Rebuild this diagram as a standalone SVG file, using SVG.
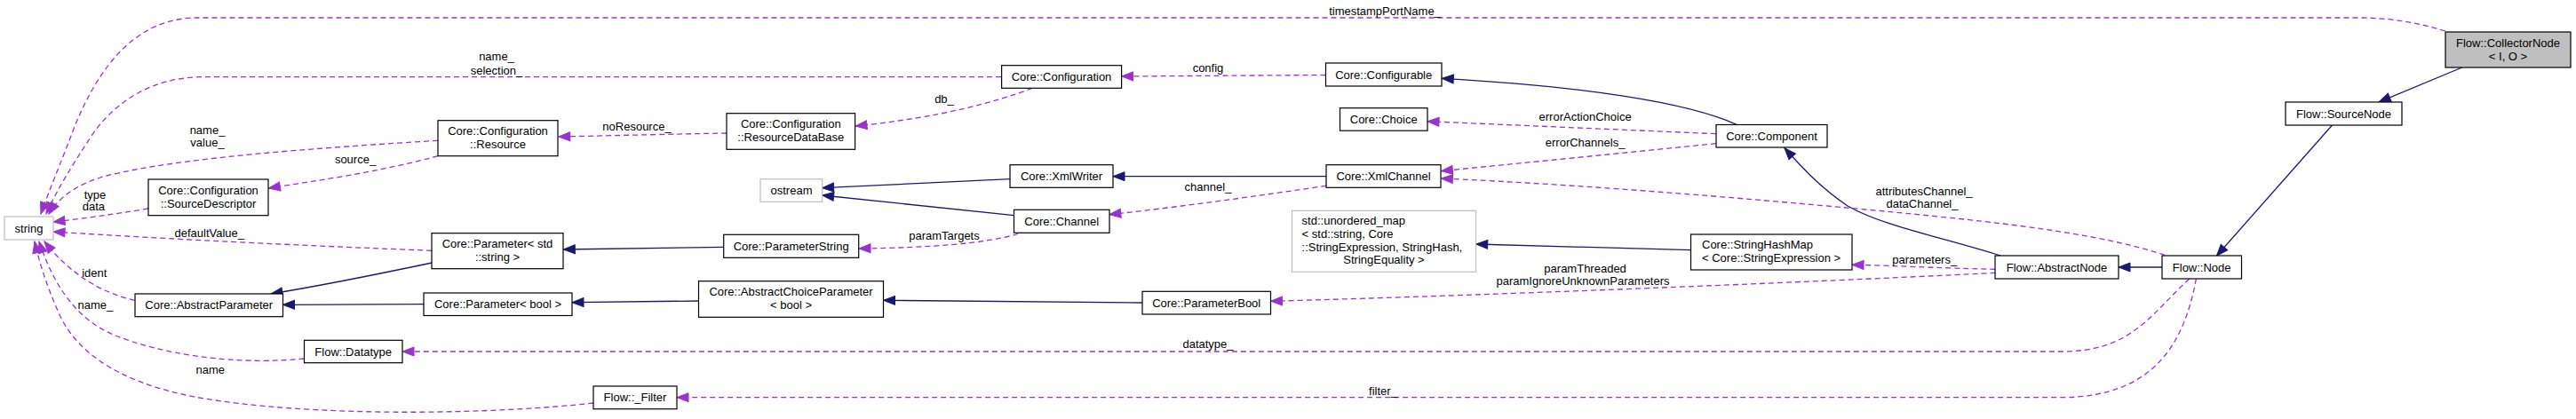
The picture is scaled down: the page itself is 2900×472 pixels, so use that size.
<svg xmlns="http://www.w3.org/2000/svg" width="2900" height="472" viewBox="0 0 2900 472">
<defs>
<marker id="ai" markerUnits="userSpaceOnUse" markerWidth="14" markerHeight="10" refX="13" refY="5" orient="auto" overflow="visible">
<path d="M0,0 L13,5 L0,10 z" fill="#191970" stroke="#191970" stroke-width="1"/>
</marker>
<marker id="au" markerUnits="userSpaceOnUse" markerWidth="14" markerHeight="10" refX="13" refY="5" orient="auto" overflow="visible">
<path d="M0,0 L13,5 L0,10 z" fill="#9a32cd" stroke="#9a32cd" stroke-width="1"/>
</marker>
<style>
.n rect{fill:#fff;stroke:#000;stroke-width:1.2}
.g rect{fill:#fff;stroke:#bfbfbf;stroke-width:1.2}
.h rect{fill:#bfbfbf;stroke:#000;stroke-width:1.2}
text{font-family:"Liberation Sans",Arial,Helvetica,sans-serif;font-size:13px;fill:#000}
.c{text-anchor:middle}
.inh{fill:none;stroke:#191970;stroke-width:1.3;marker-end:url(#ai)}
.use{fill:none;stroke:#9a32cd;stroke-width:1.3;stroke-dasharray:6,4;marker-end:url(#au)}
</style>
</defs>
<rect width="2900" height="472" fill="#fff"/>
<g id="edges">
<path class="use" d="M2753,35 C2720,25 2690,20 2655,20 L222,20 C150,20 110,80 85,140 C68,185 55,215 46,241"/>
<text class="c" x="1559" y="16.5">timestampPortName_</text>
<path class="use" d="M1127,86.7 L225,86.7 C170,88 130,115 105,150 C82,185 65,212 52,241"/>
<text class="c" x="559" y="67.5">name_</text>
<text class="c" x="559" y="83.5">selection_</text>
<path class="use" d="M1492.5,84.5 L1262.6,86"/>
<text class="c" x="1360" y="80.5">config</text>
<path class="use" d="M1162,99.5 C1120,115 1060,132 963,142"/>
<text class="c" x="1063" y="116">db_</text>
<path class="use" d="M818,150 C760,151 700,152.5 628.8,154"/>
<text class="c" x="717" y="147">noResource_</text>
<path class="use" d="M493,158.3 C350,167 200,178 120,198 C90,206 68,220 55,241"/>
<text class="c" x="233.5" y="151">name_</text>
<text class="c" x="233.5" y="165">value_</text>
<path class="use" d="M493,175.7 C430,193 360,203 302.4,212"/>
<text class="c" x="400" y="183.5">source_</text>
<path class="use" d="M167,235 C130,241 95,246 60,250"/>
<text class="c" x="107" y="223.5">type</text>
<text class="c" x="105.4" y="236.8">data</text>
<path class="use" d="M486,282.3 C350,277 200,270 60,261"/>
<text class="c" x="235.8" y="267">defaultValue_</text>
<path class="use" d="M151.6,338.3 C115,330 80,310 50,272"/>
<text class="c" x="106.3" y="311.8">ident</text>
<path class="use" d="M342.6,404 C260,412 180,398 130,378 C85,360 60,320 44,272"/>
<text class="c" x="107.3" y="347.8">name_</text>
<path class="use" d="M668,454 C560,466 380,470 250,452 C160,440 90,410 65,350 C52,320 44,295 39,272"/>
<text class="c" x="236.7" y="421">name</text>
<path class="inh" d="M486.4,296 C420,310 360,322 305,331"/>
<path class="inh" d="M477,342.7 L318.5,343.3"/>
<path class="inh" d="M814.7,278.3 L634.3,281"/>
<path class="inh" d="M786.5,339 L644,340.7"/>
<path class="inh" d="M1286,341 C1150,340 1080,339 994.5,338.3"/>
<path class="inh" d="M1137,201.7 L925.6,211.7"/>
<path class="inh" d="M1141.5,242.7 L925.6,220"/>
<path class="inh" d="M1493,198.7 L1253,198.7"/>
<path class="use" d="M1493,209.3 C1420,220 1330,233 1248.8,241.7"/>
<text class="c" x="1360" y="215">channel_</text>
<path class="use" d="M1146,263.5 C1110,274 1050,279 967,280"/>
<text class="c" x="1063" y="269.5">paramTargets</text>
<path class="inh" d="M1955,140.3 C1900,115 1780,97 1623.3,88.3"/>
<path class="use" d="M1931.7,150.7 L1607,136.7"/>
<text class="c" x="1784.6" y="136">errorActionChoice</text>
<path class="use" d="M1931.7,161.7 C1830,172 1720,183 1622.4,192.7"/>
<text class="c" x="1784.6" y="164.5">errorChannels_</text>
<path class="inh" d="M2253,288.3 C2190,268 2120,255 2080,232 C2050,212 2030,190 2009,166.7"/>
<path class="use" d="M2437,287.3 C2360,262 2250,250 2100,236 C1950,222 1780,208 1622.4,201"/>
<text class="c" x="2166" y="219.5">attributesChannel_</text>
<text class="c" x="2164" y="233.5">dataChannel_</text>
<path class="use" d="M2246.4,303.3 C2180,302 2130,299 2085,298.3"/>
<text class="c" x="2166.7" y="296.5">parameters_</text>
<path class="use" d="M2246.4,307.3 C2100,315 1700,332 1430.5,339.3"/>
<text class="c" x="1784.6" y="307.2">paramThreaded</text>
<text class="c" x="1782" y="321.2">paramIgnoreUnknownParameters</text>
<path class="inh" d="M1903.5,281.7 L1661.7,275"/>
<path class="inh" d="M2434,301 L2385,301"/>
<path class="inh" d="M2625.5,141 L2495.4,288.3"/>
<path class="inh" d="M2771.7,76 L2678.3,114.8"/>
<path class="use" d="M2464.8,314 C2420,355 2400,396 2320,396 L453,396"/>
<text class="c" x="1360" y="391.8">datatype_</text>
<path class="use" d="M2472.4,314 C2460,380 2430,447.7 2320,447.7 L762,447.7"/>
<text class="c" x="1557" y="444.5">filter_</text>
</g>
<g id="string" class="g"><rect x="5" y="244" width="55" height="26"/><text class="c" x="32.5" y="261.5">string</text></g>
<g id="collectornode" class="h"><rect x="2753" y="36" width="141" height="40"/><text class="c" x="2823.5" y="52.5">Flow::CollectorNode</text><text class="c" x="2823.5" y="67.5">&lt; I, O &gt;</text></g>
<g id="sourcenode" class="n"><rect x="2573" y="115" width="131" height="26"/><text class="c" x="2638.5" y="132.5">Flow::SourceNode</text></g>
<g id="node" class="n"><rect x="2434" y="288" width="89.5" height="26"/><text class="c" x="2478.7" y="305.5">Flow::Node</text></g>
<g id="abstractnode" class="n"><rect x="2246" y="288" width="139" height="26"/><text class="c" x="2315.5" y="305.5">Flow::AbstractNode</text></g>
<g id="component" class="n"><rect x="1932" y="140.5" width="125" height="25.5"/><text class="c" x="1994.5" y="157.8">Core::Component</text></g>
<g id="stringhashmap" class="n"><rect x="1903.5" y="264" width="181.5" height="40"/><text x="1916" y="280.2">Core::StringHashMap</text><text x="1916" y="295.2">&lt; Core::StringExpression &gt;</text></g>
<g id="configurable" class="n"><rect x="1492.5" y="71" width="130.5" height="26"/><text class="c" x="1557.7" y="88.5">Core::Configurable</text></g>
<g id="choice" class="n"><rect x="1508.5" y="121.7" width="98.5" height="25.5"/><text class="c" x="1557.7" y="139">Core::Choice</text></g>
<g id="xmlchannel" class="n"><rect x="1493" y="185.7" width="129" height="25.6"/><text class="c" x="1557.5" y="203">Core::XmlChannel</text></g>
<g id="unorderedmap" class="g"><rect x="1454.5" y="237.3" width="207" height="69"/><text x="1465.6" y="252.8">std::unordered_map</text><text x="1465.6" y="267.8">&lt; std::string, Core</text><text x="1465.6" y="282.8">::StringExpression, StringHash,</text><text class="c" x="1558" y="297.2">StringEquality &gt;</text></g>
<g id="parameterbool" class="n"><rect x="1286" y="328.3" width="144.5" height="25.7"/><text class="c" x="1358.2" y="345.7">Core::ParameterBool</text></g>
<g id="configuration" class="n"><rect x="1127.6" y="73.7" width="135" height="25.6"/><text class="c" x="1195" y="91">Core::Configuration</text></g>
<g id="resourcedatabase" class="n"><rect x="818" y="127.7" width="144.6" height="40.6"/><text class="c" x="890.3" y="143.8">Core::Configuration</text><text class="c" x="890.3" y="158.8">::ResourceDataBase</text></g>
<g id="ostream" class="g"><rect x="856" y="201.7" width="69.6" height="25.6"/><text class="c" x="891" y="219">ostream</text></g>
<g id="xmlwriter" class="n"><rect x="1137" y="185.7" width="116" height="25.6"/><text class="c" x="1195" y="203">Core::XmlWriter</text></g>
<g id="channel" class="n"><rect x="1141.5" y="236.3" width="107.5" height="26"/><text class="c" x="1195.2" y="253.8">Core::Channel</text></g>
<g id="parameterstring" class="n"><rect x="814.7" y="264.3" width="152" height="26"/><text class="c" x="890.7" y="281.8">Core::ParameterString</text></g>
<g id="abstractchoiceparameter" class="n"><rect x="786.5" y="316.7" width="208" height="40.6"/><text class="c" x="890.5" y="332.8">Core::AbstractChoiceParameter</text><text class="c" x="890.5" y="347.8">&lt; bool &gt;</text></g>
<g id="filter" class="n"><rect x="668" y="435" width="94" height="25.7"/><text class="c" x="715" y="452.3">Flow::_Filter</text></g>
<g id="resource" class="n"><rect x="493" y="135.7" width="135" height="40"/><text class="c" x="560.5" y="152.2">Core::Configuration</text><text class="c" x="560.5" y="166.8">::Resource</text></g>
<g id="sourcedescriptor" class="n"><rect x="167" y="202" width="135" height="40.7"/><text class="c" x="234.5" y="219.2">Core::Configuration</text><text class="c" x="234.5" y="234">::SourceDescriptor</text></g>
<g id="parameterstdstring" class="n"><rect x="486" y="262.7" width="148" height="40"/><text class="c" x="560" y="278.8">Core::Parameter&lt; std</text><text class="c" x="560" y="293.5">::string &gt;</text></g>
<g id="parameterbooltmpl" class="n"><rect x="477" y="330" width="167" height="25.5"/><text class="c" x="560.5" y="347.3">Core::Parameter&lt; bool &gt;</text></g>
<g id="abstractparameter" class="n"><rect x="152" y="331" width="166.5" height="25.7"/><text class="c" x="235.2" y="348.3">Core::AbstractParameter</text></g>
<g id="datatype" class="n"><rect x="342.5" y="383.3" width="110.5" height="25.4"/><text class="c" x="397.7" y="400.5">Flow::Datatype</text></g>
</svg>
